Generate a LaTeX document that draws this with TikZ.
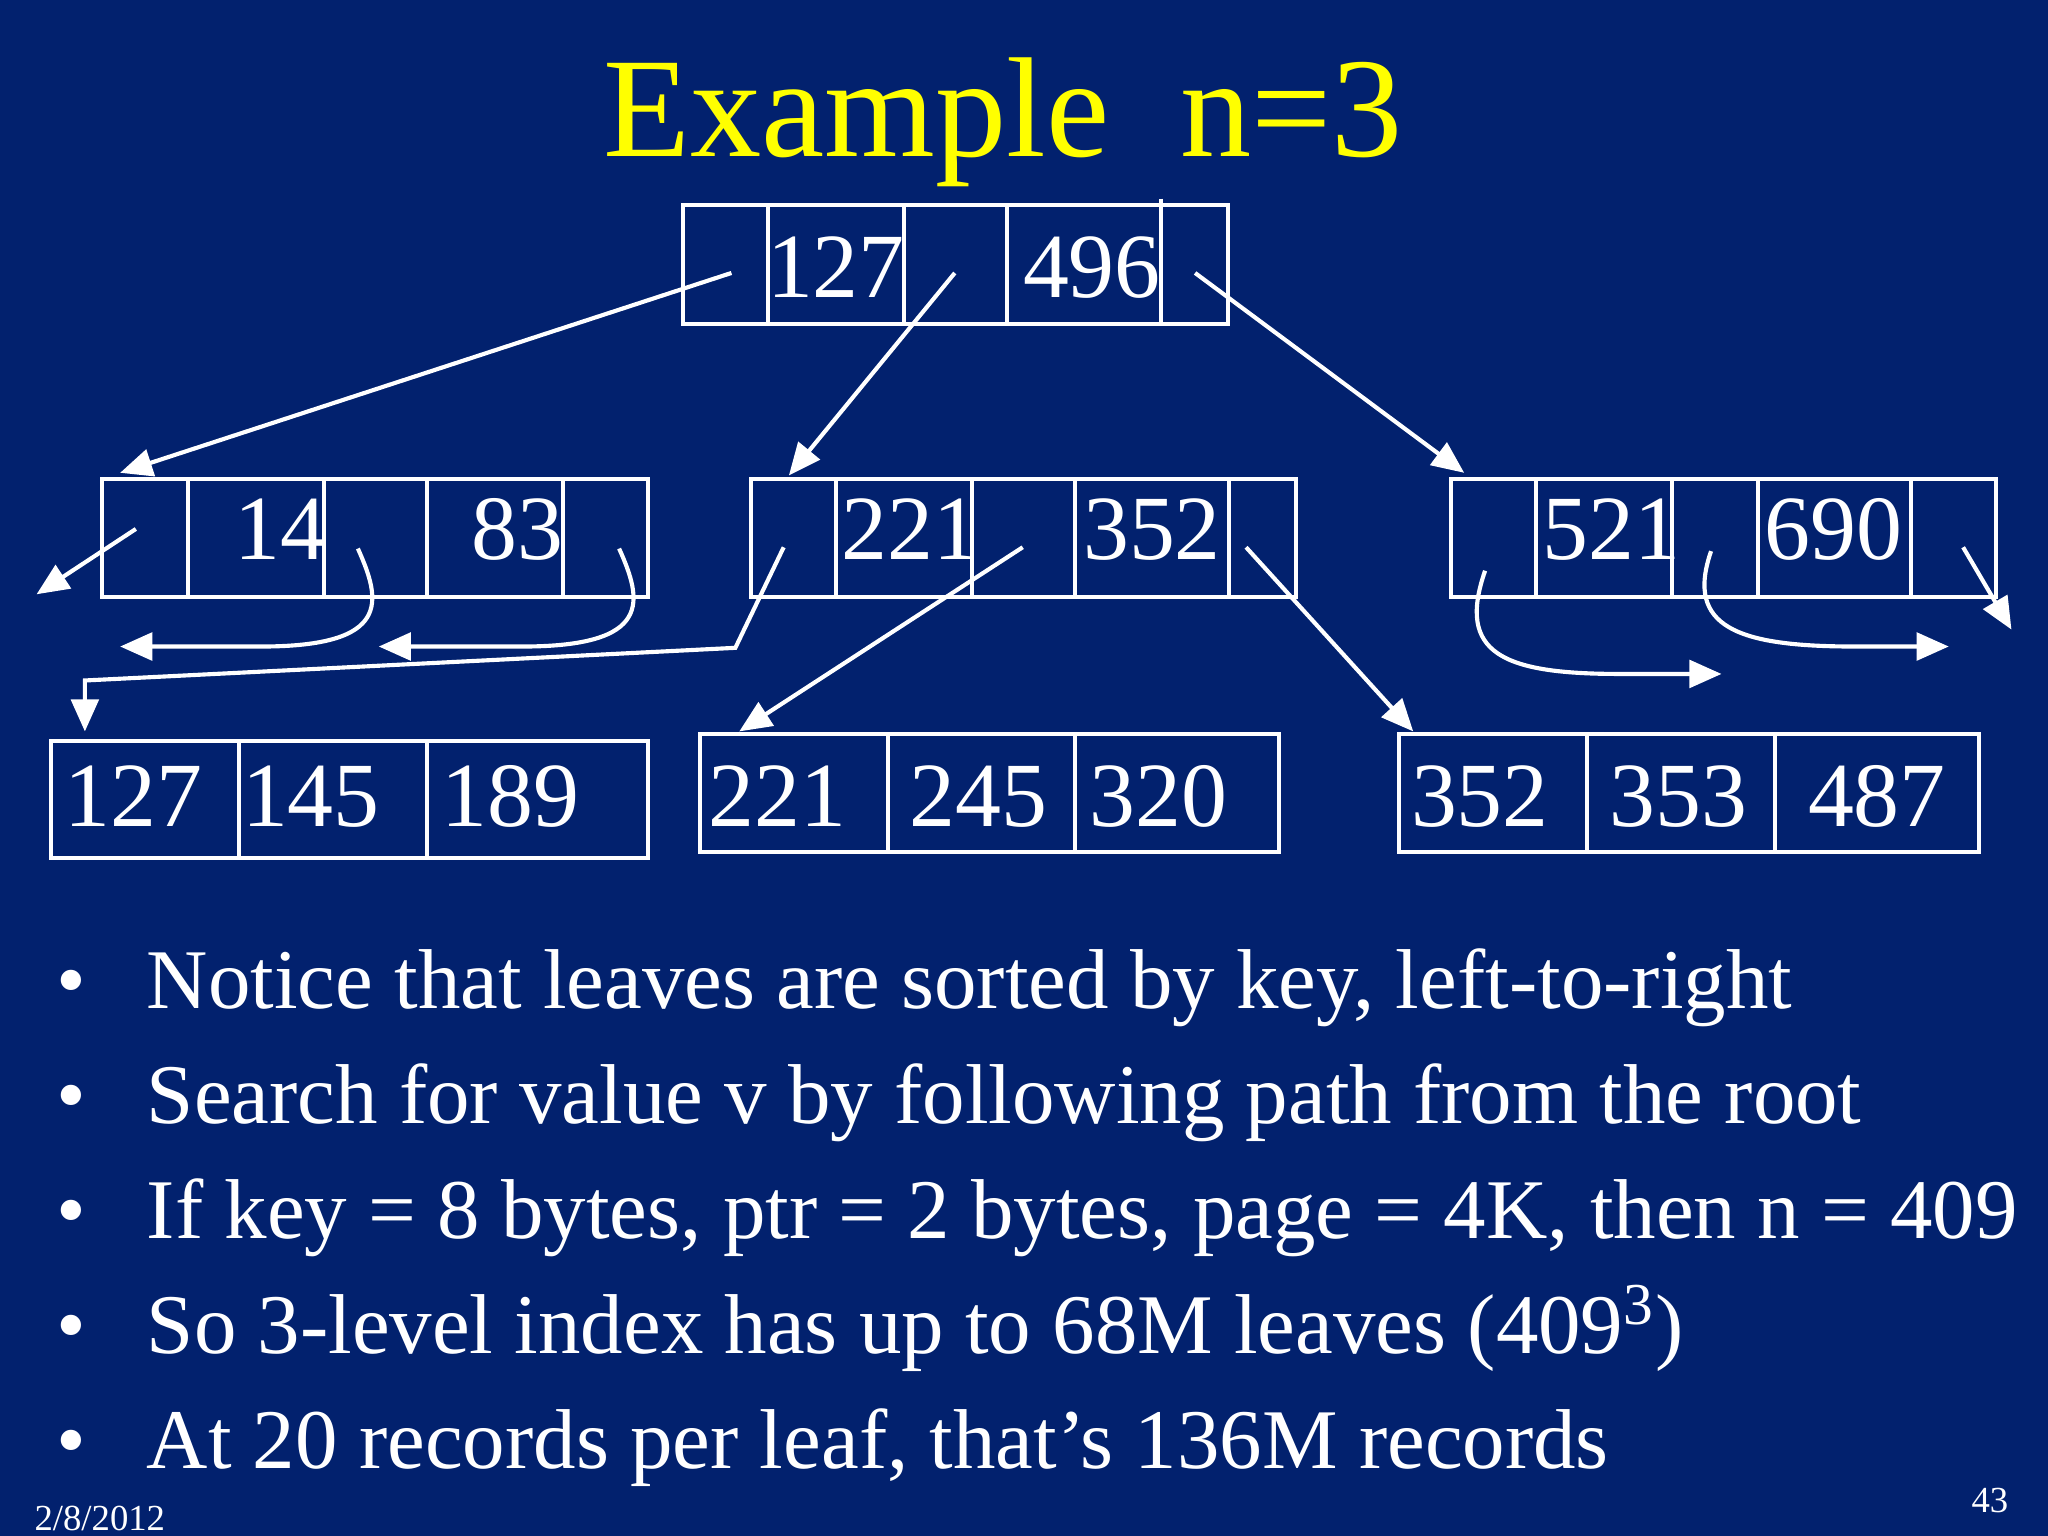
\documentclass[tikz,border=0pt]{standalone}
\usepackage{fontspec}
\setmainfont{Liberation Serif}
\usetikzlibrary{arrows.meta}
\definecolor{bg}{RGB}{2,33,110}
\definecolor{ttl}{RGB}{255,255,0}
\tikzset{
 ln/.style={white,line width=0.9pt},
 ar/.style={white,line width=0.9pt,-{Triangle[length=7pt,width=6pt]}},
 num/.style={white,font=\fontsize{20}{22}\selectfont,anchor=base},
 bul/.style={white,font=\fontsize{18.5}{22}\selectfont,anchor=base west},
}
\newcommand{\bxx}[5]{\draw[ln] (#1/100,-#3/100) rectangle (#2/100,-#4/100);
 \foreach \d in {#5} {\draw[ln] (\d/100,-#3/100) -- (\d/100,-#4/100);}}
\begin{document}
\begin{tikzpicture}[x=1cm,y=1cm]
\fill[bg] (0,0) rectangle (15.68,-11.76);
\useasboundingbox (0,0) rectangle (15.68,-11.76);
\node[ttl,font=\fontsize{31}{34}\selectfont,anchor=base] (title) at (7.68,-1.2) {Example\ \ n=3};
\bxx{523}{940}{157}{248}{588,692,771,889}
\draw[ln] (8.89,-1.52) -- (8.89,-1.57);
\bxx{78}{496}{367}{457}{144,248,327,431}
\bxx{575}{992}{367}{457}{640,744,823,941}
\bxx{1111}{1528}{367}{457}{1176,1280,1346,1463}
\bxx{39}{496}{567}{657}{183,327}
\bxx{536}{979}{562}{652}{680,823}
\bxx{1071}{1515}{562}{652}{1215,1359}
% numbers
\node[num] (r1) at (6.40,-2.28) {127};
\node[num] (r2) at (8.36,-2.28) {496};
\node[num] (a1) at (2.15,-4.28) {14};
\node[num] (a2) at (3.96,-4.28) {83};
\node[num] (b1) at (6.97,-4.28) {221};
\node[num] (b2) at (8.82,-4.28) {352};
\node[num] (c1) at (12.34,-4.28) {521};
\node[num] (c2) at (14.04,-4.28) {690};
\node[num] (l11) at (1.02,-6.33) {127};
\node[num] (l12) at (2.38,-6.33) {145};
\node[num] (l13) at (3.91,-6.33) {189};
\node[num] (l21) at (5.95,-6.33) {221};
\node[num] (l22) at (7.49,-6.33) {245};
\node[num] (l23) at (8.87,-6.33) {320};
\node[num] (l31) at (11.33,-6.33) {352};
\node[num] (l32) at (12.85,-6.33) {353};
\node[num] (l33) at (14.37,-6.33) {487};
% pointers
\coordinate (p0) at (5.60,-2.09); \coordinate (q0) at (0.92,-3.62);
\coordinate (p1) at (7.31,-2.09); \coordinate (q1) at (6.04,-3.64);
\coordinate (p2) at (9.15,-2.09); \coordinate (q2) at (11.21,-3.62);
\draw[ar] (p0) -- (q0);
\draw[ar] (p1) -- (q1);
\draw[ar] (p2) -- (q2);
\coordinate (a0) at (1.04,-4.05); \coordinate (a0e) at (0.28,-4.55);
\draw[ar] (a0) -- (a0e);
\coordinate (as1) at (2.74,-4.20); \coordinate (ae1) at (0.92,-4.95);
\draw[ar] (as1) .. controls (2.92,-4.60) and (3.00,-4.95) .. (2.00,-4.95) -- (ae1);
\coordinate (as2) at (4.74,-4.20); \coordinate (ae2) at (2.90,-4.95);
\draw[ar] (as2) .. controls (4.92,-4.60) and (5.00,-4.95) .. (4.00,-4.95) -- (ae2);
\coordinate (bs0) at (6.00,-4.19); \coordinate (be0) at (0.65,-5.60);
\draw[ar] (bs0) -- (5.63,-4.96) -- (0.65,-5.21) -- (be0);
\coordinate (bs1) at (7.83,-4.19); \coordinate (be1) at (5.66,-5.60);
\draw[ar] (bs1) -- (be1);
\coordinate (bs2) at (9.54,-4.19); \coordinate (be2) at (10.82,-5.60);
\draw[ar] (bs2) -- (be2);
\coordinate (cs0) at (11.37,-4.37); \coordinate (ce0) at (13.18,-5.16);
\draw[ar] (cs0) .. controls (11.15,-5.00) and (11.50,-5.16) .. (12.40,-5.16) -- (ce0);
\coordinate (cs1) at (13.10,-4.22); \coordinate (ce1) at (14.92,-4.95);
\draw[ar] (cs1) .. controls (12.90,-4.80) and (13.30,-4.95) .. (14.20,-4.95) -- (ce1);
\coordinate (cs2) at (15.03,-4.19); \coordinate (ce2) at (15.40,-4.82);
\draw[ar] (cs2) -- (ce2);
% bullets
\foreach \t [count=\i] in {{Notice that leaves are sorted by key, left-to-right},
 {Search for value v by following path from the root},
 {If key = 8 bytes, ptr = 2 bytes, page = 4K, then n = 409},
 {So 3-level index has up to 68M leaves (409\textsuperscript{3})},
 {At 20 records per leaf, that’s 136M records}} {
 \node[white,font=\fontsize{18.5}{22}\selectfont,anchor=base] (dot\i) at (0.55,{-7.72-0.88*(\i-1)}) {•};
 \node[bul] (bl\i) at (1.0,{-7.72-0.88*(\i-1)}) {\t};
}
\node[white,font=\fontsize{8}{9}\selectfont,anchor=base west] (date) at (0.14,-11.72) {2/8/2012};
\node[white,font=\fontsize{8}{9}\selectfont,anchor=base east] (pg) at (15.50,-11.58) {43};
\end{tikzpicture}
\end{document}
